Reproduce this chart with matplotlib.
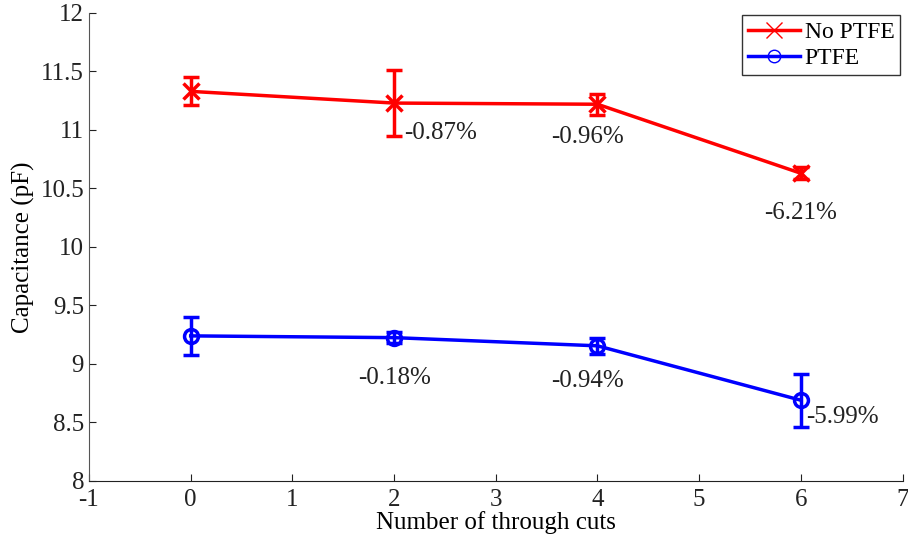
import matplotlib
matplotlib.use("Agg")
import matplotlib.pyplot as plt

plt.rcParams['font.family'] = ['Liberation Serif', 'DejaVu Serif']
plt.rcParams['axes.unicode_minus'] = False

cuts = [0, 2, 4, 6]
no_ptfe = [11.33, 11.23, 11.22, 10.63]
no_ptfe_err = [0.12, 0.28, 0.09, 0.05]
ptfe = [9.24, 9.225, 9.155, 8.69]
ptfe_err = [0.16, 0.05, 0.07, 0.225]

# change labels: (x, y, text, ha)
red_labels = [(2.1, 10.97, '-0.87%', 'left'), (3.9, 10.94, '-0.96%', 'center'),
              (6.0, 10.29, '-6.21%', 'center')]
blue_labels = [(2.0, 8.88, '-0.18%', 'center'), (3.9, 8.855, '-0.94%', 'center'),
               (6.05, 8.55, '-5.99%', 'left')]

fig = plt.figure(figsize=(9.08, 5.41), dpi=100)
ax = fig.add_axes([0.098, 0.111, 0.896, 0.865])

ax.errorbar(cuts, no_ptfe, yerr=no_ptfe_err, color='red', lw=2.5, marker='x',
            ms=11, mew=2.5, capsize=6, capthick=2.5, elinewidth=2.5)
ax.errorbar(cuts, ptfe, yerr=ptfe_err, color='blue', lw=2.5, marker='o',
            ms=10, mew=2.5, mfc='none', capsize=6, capthick=2.5, elinewidth=2.5)
# legend handles without the error bars
ax.plot([], [], color='red', lw=2.5, marker='x', ms=11, mew=1, label='No PTFE')
ax.plot([], [], color='blue', lw=2.5, marker='o', ms=9, mew=1, mfc='none', label='PTFE')

for x, y, t, ha in red_labels + blue_labels:
    ax.text(x, y, t, ha=ha, va='center', fontsize=18, color='#222222')

ax.set_xlim(-1, 7)
ax.set_ylim(8, 12)
ax.set_xticks(range(-1, 8))
ax.set_yticks([8, 8.5, 9, 9.5, 10, 10.5, 11, 11.5, 12])
ax.set_yticklabels(['8', '8.5', '9', '9.5', '10', '10.5', '11', '11.5', '12'])
ax.tick_params(direction='in', length=5, labelsize=18, colors='#222222')
ax.tick_params(axis='x', pad=6)
ax.spines['top'].set_visible(False)
ax.spines['right'].set_visible(False)
ax.spines['left'].set_color('#555555')
ax.spines['bottom'].set_color('#222222')

ax.set_xlabel('Number of through cuts', fontsize=18, labelpad=0)
ax.set_ylabel('Capacitance (pF)', fontsize=18, labelpad=4)

leg = ax.legend(loc='upper right', fontsize=17, frameon=True, fancybox=False,
                edgecolor='black', borderaxespad=0.1, handlelength=2.2,
                handletextpad=0.2, borderpad=0.25, labelspacing=0.2)
leg.get_frame().set_linewidth(1)

fig.savefig('out.png', dpi=100)
